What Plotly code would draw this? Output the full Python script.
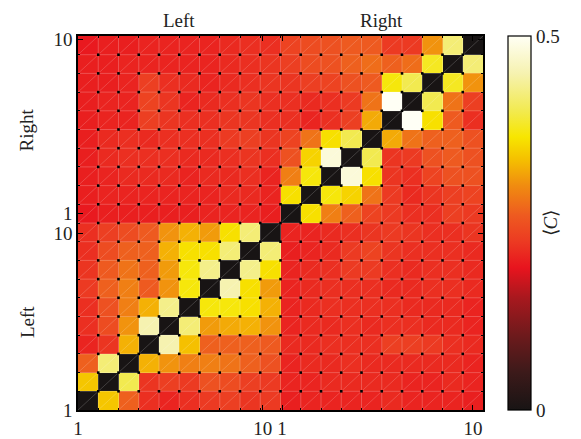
import numpy as np
import plotly.graph_objects as go

# ---- data (rows bottom -> top, columns left -> right) ----
z_rows = [
    [0, .34, .265, .215, .205, .215, .225, .23, .22, .225, .20, .205, .205, .205, .205, .21, .205, .205, .205, .20],
    [.34, 0, .40, .22, .23, .225, .25, .245, .23, .225, .205, .205, .21, .21, .21, .21, .205, .205, .21, .205],
    [.265, .42, 0, .325, .305, .29, .29, .28, .265, .25, .205, .21, .21, .215, .21, .21, .21, .21, .21, .205],
    [.205, .22, .325, 0, .45, .335, .265, .265, .265, .26, .21, .21, .215, .215, .215, .23, .23, .225, .215, .21],
    [.215, .245, .305, .45, 0, .42, .31, .32, .325, .305, .205, .21, .21, .215, .21, .215, .215, .21, .21, .205],
    [.215, .25, .29, .325, .43, 0, .37, .37, .36, .325, .205, .21, .215, .215, .215, .215, .21, .21, .21, .205],
    [.225, .265, .29, .26, .305, .37, 0, .45, .36, .31, .205, .21, .215, .215, .215, .21, .21, .215, .215, .21],
    [.22, .26, .28, .265, .31, .37, .43, 0, .43, .36, .205, .21, .215, .225, .225, .215, .21, .215, .215, .21],
    [.215, .245, .265, .265, .325, .36, .36, .42, 0, .42, .20, .205, .21, .225, .235, .22, .215, .215, .215, .21],
    [.215, .23, .245, .26, .305, .325, .31, .36, .42, 0, .205, .205, .21, .215, .22, .225, .22, .215, .215, .22],
    [.195, .20, .20, .20, .20, .20, .205, .205, .205, .20, 0, .36, .29, .265, .235, .225, .215, .215, .23, .225],
    [.20, .205, .205, .205, .205, .205, .205, .21, .21, .205, .36, 0, .37, .35, .28, .225, .21, .22, .23, .235],
    [.20, .205, .21, .21, .21, .205, .21, .21, .215, .205, .29, .37, 0, .48, .36, .22, .215, .235, .25, .25],
    [.20, .21, .215, .215, .215, .21, .21, .215, .22, .215, .25, .35, .48, 0, .40, .22, .225, .25, .26, .25],
    [.20, .21, .215, .21, .215, .215, .215, .225, .23, .22, .235, .28, .36, .40, 0, .32, .28, .265, .265, .25],
    [.20, .205, .205, .23, .22, .215, .215, .22, .22, .215, .215, .205, .215, .23, .32, 0, .50, .36, .26, .215],
    [.20, .205, .205, .235, .22, .205, .21, .215, .22, .215, .215, .21, .215, .225, .28, .50, 0, .40, .28, .23],
    [.20, .20, .205, .23, .215, .21, .205, .21, .215, .22, .22, .23, .235, .25, .26, .37, .40, 0, .38, .305],
    [.20, .20, .205, .205, .205, .205, .205, .21, .215, .22, .23, .245, .25, .265, .275, .265, .275, .38, 0, .42],
    [.195, .20, .20, .205, .205, .205, .205, .21, .215, .215, .235, .245, .25, .26, .26, .225, .225, .305, .42, 0],
]
x_tick_vals = [0, 9.12, 10.08, 19.5]
x_tick_text = ["1", "10", "1", "10"]
y_tick_vals = [0, 9.45, 10.5, 19.8]
y_tick_text = ["1", "10", "1", "10"]
cbar_ticks = [0, 0.5]
cbar_text = ["0", "0.5"]
half_titles = ["Left", "Right"]
side_title_pos = [4.7, 15.0]

z = np.array(z_rows)
n = z.shape[0]
centers = np.arange(n) + 0.5

colorscale = [
    [0.0, "#181414"], [0.1, "#3c1a1a"], [0.2, "#6e1a1c"], [0.3, "#a8181e"],
    [0.38, "#e8141e"], [0.45, "#ec3a22"], [0.52, "#ee5a20"], [0.6, "#f08c10"],
    [0.67, "#f5c000"], [0.73, "#f7e600"], [0.8, "#f2ea50"], [0.9, "#f6f2b0"],
    [1.0, "#fffff5"],
]

FONT = "Liberation Serif"
fig = go.Figure()
fig.add_trace(go.Heatmap(
    z=z, x=centers, y=centers, zmin=0, zmax=0.5, colorscale=colorscale,
    hoverinfo="skip",
    colorbar=dict(
        x=1.062, xanchor="left", xpad=0, y=0.5, yanchor="middle", ypad=0,
        len=1, lenmode="fraction", thickness=23,
        outlinecolor="black", outlinewidth=1.2,
        tickvals=cbar_ticks, ticktext=cbar_text, ticks="",
        tickfont=dict(family=FONT, size=19, color="#222"),
    ),
))

# faint cell borders and diagonal rendering lines (from the grid)
gx, gy = [], []
for k in range(1, n):
    gx += [k, k, None, 0, n, None]
    gy += [0, n, None, k, k, None]
fig.add_trace(go.Scatter(x=gx, y=gy, mode="lines", hoverinfo="skip", showlegend=False,
                         line=dict(color="rgba(255,255,255,0.22)", width=1)))
dx, dy = [], []
for k in range(-(n - 1), n):
    x0 = max(0, -k); x1 = min(n, n - k)
    dx += [x0, x1, None]
    dy += [x0 + k, x1 + k, None]
fig.add_trace(go.Scatter(x=dx, y=dy, mode="lines", hoverinfo="skip", showlegend=False,
                         line=dict(color="rgba(255,255,255,0.3)", width=0.6)))
# dots at interior grid intersections
ii, jj = np.meshgrid(np.arange(1, n), np.arange(1, n))
fig.add_trace(go.Scatter(x=ii.ravel(), y=jj.ravel(), mode="markers", hoverinfo="skip",
                         showlegend=False,
                         marker=dict(symbol="square", size=2.6, color="black", line=dict(width=0))))

axis_common = dict(
    range=[0, n], showgrid=False, zeroline=False, showline=True, mirror="allticks",
    linecolor="black", linewidth=1.5, ticks="inside", ticklen=5, tickwidth=1,
    tickcolor="black", tickfont=dict(family=FONT, size=19, color="#222"),
    automargin=False,
    minor=dict(ticks="inside", ticklen=2.5, tickwidth=0.8, tickcolor="black",
               tickmode="linear", tick0=0, dtick=1),
)
fig.update_xaxes(**axis_common, tickvals=x_tick_vals, ticktext=x_tick_text)
fig.update_yaxes(**axis_common, tickvals=y_tick_vals, ticktext=y_tick_text)

annotations = []
for idx, t in enumerate(half_titles):
    xc = n / 4 + idx * n / 2
    annotations.append(dict(text=t, x=xc, xref="x", y=1, yref="paper", yanchor="bottom",
                            yshift=3, showarrow=False,
                            font=dict(family=FONT, size=19, color="#222")))
    annotations.append(dict(text=t, y=side_title_pos[idx], yref="y", x=-0.126,
                            xref="paper", xanchor="center", textangle=-90, showarrow=False,
                            font=dict(family=FONT, size=19, color="#222")))
annotations.append(dict(text="⟨<i>C</i>⟩", x=1.1975, xref="paper", y=0.5, yref="paper",
                        textangle=-90, showarrow=False,
                        font=dict(family=FONT, size=19, color="#222")))

fig.update_layout(
    width=581, height=439,
    margin=dict(l=78, r=98, t=36, b=29, autoexpand=False),
    paper_bgcolor="white", plot_bgcolor="white",
    annotations=annotations, showlegend=False,
)
fig.write_html("out.html", config={"displayModeBar": False},
               post_script="document.body.style.margin='0';document.body.style.overflow='hidden';")
